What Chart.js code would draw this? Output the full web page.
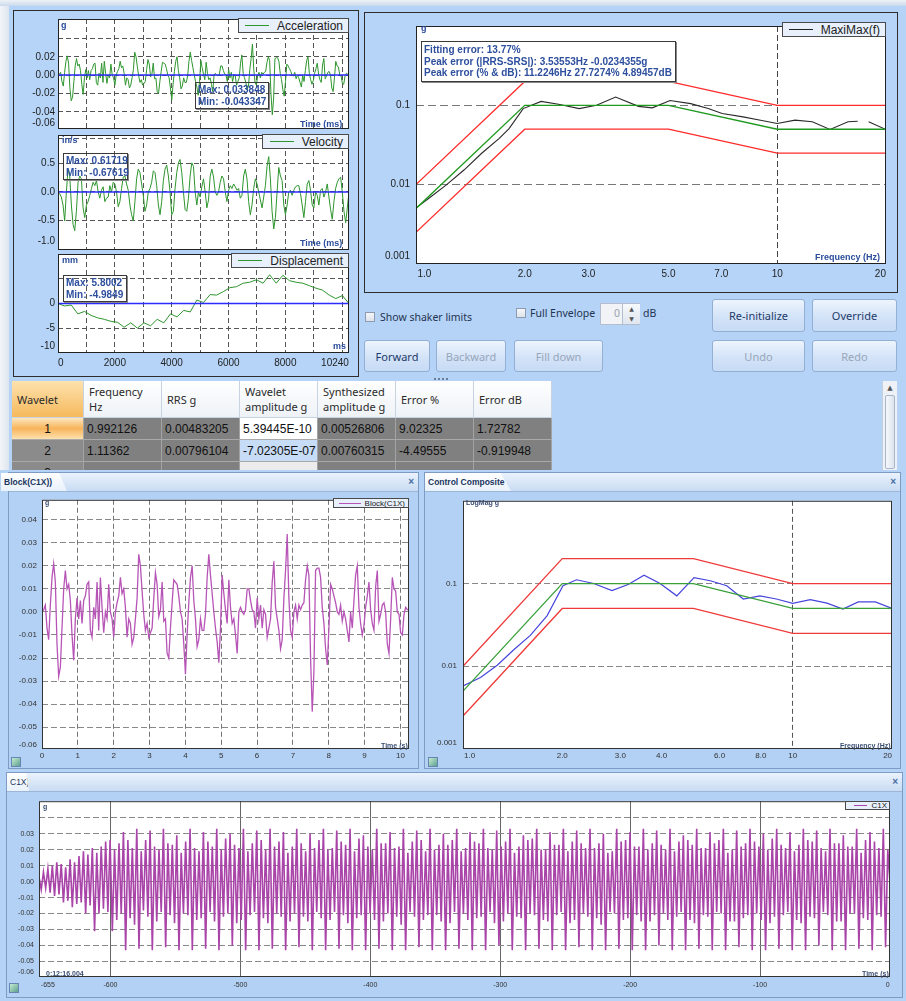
<!DOCTYPE html>
<html>
<head>
<meta charset="utf-8">
<title>Shock synthesis</title>
<script src="https://cdn.jsdelivr.net/npm/chart.js@4.4.1/dist/chart.umd.min.js"></script>
<style>
  body { margin:0; width:906px; height:1001px; position:relative; overflow:hidden; background:#b5d3f6; font-family:"Liberation Sans", Arial, sans-serif; }
  .panel { position:absolute; border:1px solid #2d2d2d; background:#b5d4f8; box-sizing:border-box; }
  .unit { position:absolute; font:bold 9px "Liberation Sans", Arial, sans-serif; color:#2b4d9c; z-index:3; white-space:nowrap; line-height:11px; }
  .small { font-size:7px; color:#3b4f74; }
  .note { position:absolute; border:1px solid #3a3a3a; box-shadow:1px 1px 0 #888; font:bold 10px "Liberation Sans", Arial, sans-serif; color:#2d4f9e; z-index:3; line-height:12px; padding:1px 2px; box-sizing:border-box; white-space:nowrap; }
  .leg { position:absolute; display:flex; align-items:center; justify-content:flex-end; gap:8px; background:#e8f0fb; border:1px solid #4a4a4a; box-sizing:border-box; font:12px "Liberation Sans", Arial, sans-serif; color:#222; padding-right:5px; z-index:3; white-space:nowrap; }
  .leg i { display:block; width:24px; border-top:1px solid; }
  .btn { position:absolute; height:33px; border:1px solid #93afd4; border-radius:3px; background:linear-gradient(#edf4fd, #d3e3f8 55%, #c7dbf5); font:11px "Noto Sans", sans-serif; color:#97a6b9; display:flex; align-items:center; justify-content:center; box-sizing:border-box; }
  .btn.on { color:#1d3a6a; }
  .chk { position:absolute; width:10px; height:10px; border:1px solid #8c9bb0; background:linear-gradient(#f4f6f9, #dfe4ea); box-sizing:border-box; }
  .lbl { position:absolute; font:10.5px "Noto Sans", sans-serif; color:#1f3352; white-space:nowrap; line-height:14px; }
  .cell { position:absolute; box-sizing:border-box; border-right:1px solid #a3a3a3; border-bottom:1px solid #a9a9a9; font:12px "Liberation Sans Narrow", "Liberation Sans", sans-serif; color:#111; padding-left:3px; display:flex; align-items:center; white-space:nowrap; overflow:hidden; }
  .hd { background:linear-gradient(#ffffff, #eef2f7); border-right:1px solid #c8d3e2; border-bottom:1px solid #c8d3e2; font:11px "Noto Sans", sans-serif; color:#2a2a2a; line-height:15px; padding-left:5px; }
  .win { position:absolute; border:1px solid #7d9bc3; background:#b3d1f4; box-sizing:border-box; }
  .bar { position:absolute; left:0; right:0; top:0; height:18px; background:linear-gradient(#eaf2fd, #c9dcf3); border-bottom:1px solid #9db6d6; }
  .tab { position:absolute; top:0; height:18px; background:linear-gradient(#ffffff, #e9f1fb); clip-path:polygon(0 0, 88% 0, 100% 100%, 0 100%); font:bold 8.5px "Liberation Sans", Arial, sans-serif; color:#1c355e; line-height:18px; padding-left:3px; box-sizing:border-box; white-space:nowrap; }
  .x { position:absolute; right:4px; top:3px; font:bold 10px "Liberation Sans", Arial, sans-serif; color:#4a6fa5; }
  .ico { position:absolute; width:10px; height:10px; border:1px solid #6486b0; background:linear-gradient(135deg, #c4ecd0, #5f9f8f); box-sizing:border-box; }
</style>
</head>
<body>

<!-- window shadow on the left/top edge -->
<div style="position:absolute;left:0;top:0;width:9px;height:470px;background:linear-gradient(90deg,#f3f5f8,#dde5ee);"></div>
<div style="position:absolute;left:0;top:0;width:906px;height:6px;background:linear-gradient(#eef2f6,#c9d9ec);"></div>

<!-- time history panel and SRS panel -->
<div class="panel" style="left:13px;top:10px;width:346px;height:367px;"></div>
<div class="panel" style="left:364px;top:12px;width:534px;height:281px;"></div>

<!-- controls under the SRS -->
<div class="chk" style="left:365px;top:312px;"></div>
<div class="lbl" style="left:380px;top:310px;">Show shaker limits</div>
<div class="chk" style="left:516px;top:308px;"></div>
<div class="lbl" style="left:530px;top:306px;">Full Envelope</div>
<div style="position:absolute;left:600px;top:303px;width:40px;height:22px;border:1px solid #b3bfcf;background:#f1f3f6;box-sizing:border-box;"></div>
<div class="lbl" style="left:614px;top:306px;color:#9aa3ae;">0</div>
<div style="position:absolute;left:622px;top:304px;width:17px;height:20px;border-left:1px solid #b3bfcf;background:linear-gradient(#f7f9fc,#dfe6ef);font:6px 'DejaVu Sans';color:#555;text-align:center;line-height:10px;">&#9650;<br>&#9660;</div>
<div class="lbl" style="left:643px;top:306px;">dB</div>
<div class="btn on" style="left:712px;top:299px;width:93px;">Re-initialize</div>
<div class="btn on" style="left:812px;top:299px;width:85px;">Override</div>
<div class="btn on" style="left:364px;top:340px;width:66px;height:32px;">Forward</div>
<div class="btn" style="left:436px;top:340px;width:70px;height:32px;">Backward</div>
<div class="btn" style="left:514px;top:340px;width:89px;height:32px;">Fill down</div>
<div class="btn" style="left:712px;top:340px;width:93px;height:32px;">Undo</div>
<div class="btn" style="left:812px;top:340px;width:85px;height:32px;">Redo</div>

<!-- splitter grip -->
<div style="position:absolute;left:434px;top:378px;width:14px;border-top:2px dotted #6a7f9c;"></div>

<!-- wavelet table -->
<div id="table" style="position:absolute;left:12px;top:381px;width:871px;height:89px;overflow:hidden;"></div>
<div style="position:absolute;left:882px;top:381px;width:15px;height:89px;background:#eef2f7;border-left:1px solid #c5d0de;box-sizing:border-box;">
  <div style="height:14px;font:7px 'DejaVu Sans';color:#555;text-align:center;line-height:14px;">&#9650;</div>
  <div style="margin:0 2px;height:72px;border:1px solid #a7b6ca;border-radius:2px;background:linear-gradient(90deg,#f6f8fb,#dde4ee);"></div>
</div>

<!-- lower windows -->
<div class="win" style="left:8px;top:472px;width:411px;height:297px;">
  <div class="bar"></div>
  <div class="tab" style="left:-8px;width:66px;">Block(C1X))</div>
  <div class="x">&#215;</div>
  <div class="ico" style="left:2px;top:284px;"></div>
</div>
<div class="win" style="left:424px;top:472px;width:477px;height:297px;">
  <div class="bar"></div>
  <div class="tab" style="left:0;width:86px;">Control Composite</div>
  <div class="x">&#215;</div>
  <div class="ico" style="left:3px;top:284px;"></div>
</div>
<div class="win" style="left:6px;top:772px;width:897px;height:226px;">
  <div class="bar"></div>
  <div class="tab" style="left:0;width:22px;font-weight:normal;">C1X)</div>
  <div class="x">&#215;</div>
  <div class="ico" style="left:2px;top:210px;"></div>
</div>

<!-- texts drawn over the plots -->
<div class="unit" style="left:61px;top:20px;">g</div>
<div class="unit" style="left:300px;top:119px;">Time (ms)</div>
<div class="leg" style="left:238px;top:18px;width:111px;height:15px;"><i style="color:#2e962e"></i>Acceleration</div>
<div class="note" style="left:195px;top:82px;width:74px;height:27px;">Max: 0.033848<br>Min: -0.043347</div>

<div class="unit" style="left:62px;top:135px;">in/s</div>
<div class="unit" style="left:300px;top:238px;">Time (ms)</div>
<div class="leg" style="left:262px;top:134px;width:87px;height:15px;"><i style="color:#2e962e"></i>Velocity</div>
<div class="note" style="left:63px;top:153px;width:65px;height:27px;">Max: 0.61719<br>Min: -0.67619</div>

<div class="unit" style="left:62px;top:255px;">mm</div>
<div class="unit" style="left:333px;top:341px;">ms</div>
<div class="leg" style="left:231px;top:253px;width:118px;height:15px;"><i style="color:#2e962e"></i>Displacement</div>
<div class="note" style="left:63px;top:275px;width:64px;height:27px;">Max: 5.8002<br>Min: -4.9849</div>

<div class="unit" style="left:421px;top:23px;">g</div>
<div class="unit" style="left:815px;top:252px;">Frequency (Hz)</div>
<div class="leg" style="left:782px;top:22px;width:104px;height:15px;"><i style="color:#222"></i>MaxiMax(f)</div>
<div class="note" style="left:421px;top:41px;width:255px;height:41px;background:#fff;line-height:11.5px;padding-top:2px;">Fitting error: 13.77%<br>Peak error (|RRS-SRS|): 3.53553Hz -0.0234355g<br>Peak error (% &amp; dB): 11.2246Hz 27.7274% 4.89457dB</div>

<div class="unit small" style="left:45px;top:497px;">g</div>
<div class="unit small" style="left:381px;top:740px;">Time (s)</div>
<div class="leg" style="left:333px;top:498px;width:76px;height:10px;font-size:8px;gap:4px;padding-right:3px;"><i style="color:#b755b7;width:22px"></i>Block(C1X)</div>

<div class="unit small" style="left:466px;top:497px;">LogMag g</div>
<div class="unit small" style="left:840px;top:740px;">Frequency (Hz)</div>

<div class="unit small" style="left:43px;top:801px;">g</div>
<div class="unit small" style="left:46px;top:968px;">0:12:16.004</div>
<div class="unit small" style="left:862px;top:968px;">Time (s)</div>
<div class="leg" style="left:845px;top:801px;width:45px;height:9px;font-size:8px;gap:4px;padding-right:2px;"><i style="color:#a944a9;width:13px"></i>C1X</div>

<script>
// ---- data ----

// drive block (g), 221 samples over the 10.24 s block; the same pulse shows as "Acceleration"
const blockG = [
  0, 0.001, 0.003, -0.007, -0.012, 0.003, 0.015, 0.021, 0.013, -0.014,
  -0.028, -0.024, -0.007, 0.010, 0.018, 0.010, 0.012, 0.005, -0.010, -0.021,
  -0.003, 0.006, -0.003, 0.005, -0.005, 0.005, 0.007, 0.012, 0.013, -0.008,
  -0.011, 0.002, -0.003, 0.013, -0.008, 0.015, 0.002, -0.009, 0.000, -0.003,
  0.012, 0.000, -0.003, -0.011, 0.000, 0.004, 0.007, 0.015, 0.008, 0.010,
  0.002, -0.011, -0.003, -0.005, -0.014, -0.011, -0.003, 0.006, 0.025, 0.020,
  0.009, -0.001, -0.008, -0.005, -0.011, -0.009, -0.007, 0.006, 0.017, 0.012,
  -0.002, 0.001, 0.013, -0.004, -0.003, -0.018, -0.020, -0.007, 0.004, 0.014,
  0.013, 0.012, 0.007, 0.000, -0.003, -0.014, -0.027, -0.010, 0.004, 0.015,
  0.020, 0.005, -0.003, -0.015, -0.012, -0.003, -0.008, -0.008, -0.001, 0.015,
  0.025, 0.016, 0.008, 0.000, -0.007, -0.013, -0.022, -0.007, 0.016, 0.008,
  0.001, -0.005, 0.014, 0.002, -0.005, -0.003, -0.010, -0.018, 0.000, 0.002,
  0.000, -0.001, 0.001, 0.010, 0.010, 0.005, 0.001, 0.000, -0.007, 0.006,
  -0.003, 0.003, -0.007, 0.001, -0.001, -0.011, -0.007, -0.003, 0.013, 0.022,
  0.002, -0.003, -0.008, -0.016, -0.012, 0.006, 0.018, 0.0338, 0.006, -0.008,
  -0.011, 0.000, 0.003, -0.003, 0.003, 0.001, 0.003, 0.004, 0.014, 0.020,
  0.016, -0.020, -0.0433, -0.026, 0.018, 0.019, 0.019, 0.015, 0.002, -0.005,
  -0.016, -0.023, -0.007, 0.012, 0.010, 0.007, 0.004, 0.000, -0.001, 0.003,
  -0.004, 0.000, -0.003, -0.008, -0.013, 0.000, -0.007, 0.005, 0.016, 0.020,
  0.002, -0.005, -0.010, -0.006, 0.002, 0.007, 0.013, 0.001, -0.005, -0.008,
  0.011, 0.018, -0.004, -0.001, 0.003, 0.004, 0.000, -0.014, -0.018, -0.003,
  0.015, 0.010, 0.009, 0.000, -0.001, -0.009, -0.010, -0.001, 0.002, 0.001,
  0.001
];

// velocity (in/s), 175 samples over 10240 ms
const velocity = [
  0.00, -0.03, -0.09, -0.23, -0.51, 0.00, 0.40, 0.28, -0.23, -0.57,
  -0.68, -0.34, 0.17, 0.28, 0.23, -0.28, -0.45, -0.23, -0.17, -0.06,
  0.06, 0.17, 0.11, 0.20, 0.00, -0.11, 0.03, 0.09, -0.17, -0.11,
  -0.09, 0.11, 0.00, 0.17, 0.14, 0.00, -0.26, -0.17, 0.06, 0.26,
  0.28, 0.14, 0.03, -0.23, -0.40, -0.51, -0.17, 0.23, 0.40, 0.34,
  0.14, -0.06, -0.34, -0.23, 0.00, 0.06, 0.17, 0.37, 0.34, 0.11,
  -0.23, -0.40, -0.17, 0.20, 0.40, 0.47, 0.28, 0.00, -0.40, -0.34,
  0.06, 0.34, 0.51, 0.57, 0.34, 0.00, -0.31, -0.34, -0.11, 0.28,
  0.51, 0.45, 0.00, -0.23, 0.00, -0.09, 0.09, 0.23, 0.00, -0.28,
  -0.14, 0.28, 0.40, 0.26, 0.00, -0.06, 0.00, 0.17, 0.28, 0.23,
  0.00, -0.17, 0.03, 0.11, 0.06, 0.14, 0.09, 0.03, 0.06, -0.11,
  -0.06, 0.28, 0.40, 0.23, -0.17, -0.40, -0.23, 0.06, 0.23, 0.14,
  0.00, -0.14, -0.28, -0.09, 0.11, 0.45, 0.62, 0.23, -0.34, -0.65,
  -0.45, 0.00, 0.43, 0.28, 0.20, -0.23, -0.40, -0.23, 0.00, 0.03,
  -0.06, 0.03, 0.09, 0.11, 0.11, -0.03, -0.23, -0.45, -0.17, 0.14,
  0.20, 0.03, -0.23, -0.28, 0.00, -0.06, -0.23, 0.03, 0.06, -0.09,
  0.00, 0.14, -0.09, -0.31, -0.48, -0.17, 0.06, 0.17, 0.23, 0.26,
  0.00, -0.34, -0.54, -0.28, 0.00
];

// displacement (mm), 45 samples over 10240 ms
const displacement = [
  0.0, -0.5, -0.3, -2.1, -1.6, -2.4, -2.9, -3.2, -3.6, -3.8,
  -4.8, -3.9, -4.98, -3.9, -4.5, -3.2, -3.9, -2.1, -2.7, -1.4,
  -1.7, 0.7, 0.2, 1.8, 1.7, 2.4, 3.2, 3.4, 4.1, 4.3,
  4.8, 4.1, 5.8, 4.1, 5.7, 4.6, 4.3, 4.1, 3.6, 3.1,
  2.7, 1.7, 1.0, 1.6, 0.0
];

// SRS reference profile and tolerances (Hz, g)
const profFreq   = [1, 2, 5, 10, 20];
const profTarget = [0.005, 0.1, 0.1, 0.05, 0.05];
const profUpper  = [0.01, 0.2, 0.2, 0.1, 0.1];
const profLower  = [0.0025, 0.05, 0.05, 0.025, 0.025];

// synthesized MaxiMax SRS (null = gap in the trace)
const srsFreq = [1.0, 1.088, 1.216, 1.36, 1.52, 1.70, 1.81, 1.98, 2.22, 2.48, 2.83, 3.16, 3.57, 4.13, 4.51,
                 5.05, 5.76, 6.44, 7.04, 8.04, 8.99, 10.0, 11.2, 12.5, 14.0, 15.7, 16.7, 17.3, 17.9, 20.0];
const srsMaxi = [0.0051, 0.0068, 0.010, 0.0154, 0.0249, 0.0383, 0.051, 0.091, 0.112, 0.103, 0.091, 0.100, 0.127, 0.097, 0.093,
                 0.115, 0.105, 0.091, 0.079, 0.0715, 0.065, 0.059, 0.065, 0.062, 0.0496, 0.062, 0.063, null, 0.062, 0.0496];

// control composite (measured SRS)
const ccFreq = [1.0, 1.13, 1.27, 1.42, 1.60, 1.80, 2.01, 2.21, 2.49, 2.83, 3.18, 3.54, 3.96, 4.45,
                5.02, 5.62, 6.31, 7.08, 7.95, 8.92, 10.0, 11.3, 12.7, 14.2, 15.8, 17.8, 20.0];
const ccMeas = [0.0058, 0.0073, 0.0103, 0.0156, 0.0236, 0.041, 0.094, 0.111, 0.100, 0.082, 0.098, 0.126, 0.100, 0.071,
                0.118, 0.108, 0.094, 0.065, 0.071, 0.065, 0.0575, 0.064, 0.058, 0.049, 0.060, 0.060, 0.050];

// C1X control signal, last 655 s: six extremes per 10 s block
const c1x = [
  0.003, -0.005, 0.006, -0.004, 0.008, -0.007,
  0.010, -0.009, 0.012, -0.008, 0.011, -0.013,
  0.009, -0.012, 0.014, -0.016, 0.012, -0.014,
  0.016, -0.013, 0.019, -0.020, 0.017, -0.015,
  0.021, -0.031, 0.018, -0.020, 0.022, -0.017,
  0.025, -0.019, 0.026, -0.031, 0.020, -0.024,
  0.024, -0.020, 0.031, -0.043, 0.026, -0.023,
  0.021, -0.027, 0.033, -0.042, 0.019, -0.018,
  0.026, -0.022, 0.032, -0.043, 0.022, -0.025,
  0.020, -0.019, 0.033, -0.041, 0.024, -0.021,
  0.023, -0.026, 0.029, -0.043, 0.018, -0.020,
  0.025, -0.021, 0.033, -0.043, 0.021, -0.024,
  0.019, -0.023, 0.031, -0.042, 0.025, -0.019,
  0.022, -0.025, 0.033, -0.043, 0.020, -0.022,
  0.027, -0.020, 0.030, -0.040, 0.023, -0.026,
  0.021, -0.024, 0.033, -0.043, 0.019, -0.021,
  0.024, -0.019, 0.032, -0.043, 0.026, -0.023,
  0.020, -0.026, 0.033, -0.042, 0.022, -0.020,
  0.025, -0.022, 0.031, -0.043, 0.018, -0.025,
  0.022, -0.020, 0.033, -0.041, 0.024, -0.022,
  0.019, -0.025, 0.030, -0.043, 0.021, -0.019,
  0.026, -0.023, 0.033, -0.043, 0.020, -0.024,
  0.021, -0.019, 0.032, -0.042, 0.025, -0.021,
  0.023, -0.026, 0.033, -0.043, 0.019, -0.023,
  0.027, -0.021, 0.029, -0.043, 0.022, -0.020,
  0.020, -0.024, 0.033, -0.042, 0.024, -0.025,
  0.024, -0.020, 0.031, -0.043, 0.021, -0.022,
  0.022, -0.027, 0.033, -0.043, 0.018, -0.019,
  0.025, -0.022, 0.032, -0.041, 0.026, -0.024,
  0.019, -0.021, 0.033, -0.043, 0.020, -0.021,
  0.023, -0.025, 0.030, -0.043, 0.023, -0.026,
  0.026, -0.019, 0.033, -0.042, 0.019, -0.020,
  0.021, -0.024, 0.031, -0.043, 0.025, -0.023,
  0.024, -0.022, 0.033, -0.043, 0.021, -0.019,
  0.020, -0.026, 0.032, -0.040, 0.022, -0.025,
  0.025, -0.020, 0.033, -0.043, 0.018, -0.022,
  0.022, -0.023, 0.029, -0.043, 0.026, -0.020,
  0.027, -0.021, 0.033, -0.042, 0.020, -0.024,
  0.020, -0.025, 0.031, -0.043, 0.023, -0.021,
  0.023, -0.019, 0.033, -0.043, 0.019, -0.026,
  0.025, -0.024, 0.032, -0.041, 0.024, -0.020,
  0.021, -0.022, 0.033, -0.043, 0.021, -0.023,
  0.024, -0.027, 0.030, -0.043, 0.018, -0.019,
  0.019, -0.020, 0.033, -0.042, 0.025, -0.024,
  0.026, -0.023, 0.031, -0.043, 0.022, -0.021,
  0.022, -0.025, 0.033, -0.043, 0.020, -0.025,
  0.024, -0.021, 0.032, -0.040, 0.023, -0.020,
  0.020, -0.024, 0.033, -0.043, 0.019, -0.022,
  0.025, -0.019, 0.029, -0.043, 0.026, -0.024,
  0.023, -0.026, 0.033, -0.042, 0.021, -0.021,
  0.021, -0.022, 0.031, -0.043, 0.024, -0.019,
  0.026, -0.020, 0.033, -0.043, 0.018, -0.025,
  0.020, -0.025, 0.032, -0.041, 0.022, -0.023,
  0.024, -0.021, 0.033, -0.043, 0.025, -0.020,
  0.022, -0.024, 0.030, -0.043, 0.020, -0.026,
  0.027, -0.022, 0.033, -0.042, 0.023, -0.021,
  0.021, -0.019, 0.031, -0.043, 0.019, -0.024,
  0.023, -0.026, 0.033, -0.043, 0.026, -0.022,
  0.025, -0.023, 0.032, -0.040, 0.021, -0.019,
  0.019, -0.021, 0.033, -0.043, 0.024, -0.025,
  0.024, -0.025, 0.029, -0.043, 0.022, -0.020,
  0.022, -0.020, 0.033, -0.042, 0.018, -0.023,
  0.026, -0.024, 0.031, -0.043, 0.025, -0.021,
  0.021, -0.022, 0.033, -0.041, 0.020, -0.001
];

// wavelet table
const tableCols = ['Wavelet', 'Frequency<br>Hz', 'RRS g', 'Wavelet<br>amplitude g', 'Synthesized<br>amplitude g', 'Error %', 'Error dB'];
const tableRows = [
  ['1', '0.992126', '0.00483205', '5.39445E-10', '0.00526806', '9.02325', '1.72782'],
  ['2', '1.11362', '0.00796104', '-7.02305E-07', '0.00760315', '-4.49555', '-0.919948'],
  ['3', '', '', '', '', '', '']
];

// ---- table ----
(function buildTable() {
  const host = document.getElementById('table');
  const colW = 78, firstW = 72;
  const x0 = i => i === 0 ? 0 : firstW + (i - 1) * colW;
  const w = i => i === 0 ? firstW : colW;
  tableCols.forEach((t, i) => {
    const d = document.createElement('div');
    d.className = 'cell hd';
    d.style.cssText = `left:${x0(i)}px;top:0;width:${w(i)}px;height:37px;` +
      (i === 0 ? 'background:linear-gradient(#fde2ae,#f6b95c);' : '');
    d.innerHTML = t;
    host.appendChild(d);
  });
  tableRows.forEach((row, r) => {
    row.forEach((t, i) => {
      const d = document.createElement('div');
      d.className = 'cell';
      let bg = '#808080';
      if (i === 0) bg = r === 0 ? 'linear-gradient(#fde6bd,#f7b45a 50%,#fde1b0)' : '#8b8b8b';
      if (i === 3) bg = r === 0 ? '#ffffff' : (r === 1 ? '#c7dcf6' : '#ececec');
      d.style.cssText = `left:${x0(i)}px;top:${37 + r * 22}px;width:${w(i)}px;height:22px;background:${bg};` +
        (i === 0 ? 'justify-content:center;padding-left:0;' : '') +
        (r === 0 && i === 3 ? 'font-family:"Liberation Sans",Arial,sans-serif;' : '');
      d.textContent = t;
      host.appendChild(d);
    });
  });
})();

// ---- charts ----
const PAD = 8;
const sans = '"Liberation Sans", Arial, sans-serif';

const framePlugin = {
  id: 'frame',
  beforeDraw(chart) {
    const a = chart.chartArea, c = chart.ctx;
    c.save(); c.fillStyle = '#fff'; c.fillRect(a.left, a.top, a.width, a.height); c.restore();
  },
  afterDraw(chart, args, opts) {
    const a = chart.chartArea, c = chart.ctx;
    c.save(); c.strokeStyle = opts.color || '#222'; c.lineWidth = 1;
    c.strokeRect(a.left + 0.5, a.top + 0.5, a.width - 1, a.height - 1); c.restore();
  }
};

// an axis with grid lines at `grid` and labels that the software keeps inside the plot edges
function axis(o) {
  const log = o.type === 'logarithmic';
  return {
    type: o.type, min: o.min, max: o.max,
    afterBuildTicks: s => {
      const f = v => log ? Math.log10(v) : v;
      const g = u => log ? Math.pow(10, u) : u;
      const lo = f(s.min), hi = f(s.max), perPx = (hi - lo) / o.len;
      const t = o.grid.map(v => ({ value: v, text: '', line: true }));
      (o.labels || []).forEach(txt => {
        const m = (typeof o.inset === 'function' ? o.inset(txt) : (o.inset || 0)) * perPx;
        const u = Math.min(Math.max(f(parseFloat(txt)), lo + m), hi - m);
        const hit = t.find(k => Math.abs(f(k.value) - u) < 1e-9);
        if (hit) hit.text = txt; else t.push({ value: g(u), text: txt, line: false });
      });
      s.ticks = t;
    },
    grid: { color: c => (c.tick && c.tick.line) ? o.gridColor : 'rgba(0,0,0,0)', drawTicks: false, lineWidth: 1 },
    border: { display: false, dash: o.dash || [] },
    ticks: {
      display: !!o.labels, autoSkip: false, maxRotation: 0, padding: o.pad || 3,
      font: { family: sans, size: o.size || 10 }, color: o.color || '#222',
      callback: (v, i, ticks) => ticks[i].text
    }
  };
}

function plot(rect, yW, xH, x, y, datasets, frameColor) {
  const [l, t, r, b] = rect;
  const cv = document.createElement('canvas');
  const w = r - l + yW + 2 * PAD, h = b - t + xH + 2 * PAD;
  cv.width = w; cv.height = h;
  cv.style.cssText = `position:absolute;left:${l - yW - PAD}px;top:${t - PAD}px;width:${w}px;height:${h}px;z-index:2;`;
  document.body.appendChild(cv);
  x.afterFit = s => { s.height = xH; };
  y.afterFit = s => { s.width = yW; };
  return new Chart(cv, {
    type: 'line',
    data: { datasets },
    options: {
      responsive: false, animation: false, events: [],
      layout: { padding: PAD },
      plugins: { legend: { display: false }, tooltip: { enabled: false }, frame: { color: frameColor } },
      scales: { x, y }
    },
    plugins: [framePlugin]
  });
}

const line = (data, color, width) => ({ data, borderColor: color, borderWidth: width || 1, pointRadius: 0, fill: false, tension: 0 });
const series = (values, step, start) => values.map((v, i) => ({ x: (start || 0) + i * step, y: v }));
const pairs = (xs, ys) => xs.map((v, i) => ({ x: v, y: ys[i] }));
const zeroLine = max => line([{ x: 0, y: 0 }, { x: max, y: 0 }], '#2b2bff', 1.5);

const msGrid = [1000, 2000, 3000, 4000, 5000, 6000, 7000, 8000, 9000, 10000];
const green = '#2e962e';

// Acceleration
plot([58, 18, 349, 130], 45, 0,
  axis({ type: 'linear', min: 0, max: 10240, len: 291, grid: msGrid, gridColor: '#555', dash: [5, 3] }),
  axis({ type: 'linear', min: -0.0588, max: 0.0612, len: 112, grid: [0.04, 0.02, 0, -0.02, -0.04], gridColor: '#555', dash: [5, 3],
         labels: ['0.02', '0.00', '-0.02', '-0.04', '-0.06'], inset: 6 }),
  [zeroLine(10240), line(series(blockG, 10240 / (blockG.length - 1)), green)]);

// Velocity
plot([58, 134, 349, 251], 45, 0,
  axis({ type: 'linear', min: 0, max: 10240, len: 291, grid: msGrid, gridColor: '#555', dash: [5, 3] }),
  axis({ type: 'linear', min: -1.02, max: 1.0, len: 117, grid: [0.93, 0.5, 0, -0.5], gridColor: '#555', dash: [5, 3],
         labels: ['0.5', '0.0', '-0.5', '-1.0'], inset: 9 }),
  [zeroLine(10240), line(series(velocity, 10240 / (velocity.length - 1)), green)]);

// Displacement
plot([58, 253, 349, 353], 45, 16,
  axis({ type: 'linear', min: 0, max: 10240, len: 291, grid: msGrid, gridColor: '#555', dash: [5, 3],
         labels: ['0', '2000', '4000', '6000', '8000', '10240'], inset: t => t.length * 2.8, pad: 4 }),
  axis({ type: 'linear', min: -10, max: 10, len: 100, grid: [5, 0, -5], gridColor: '#555', dash: [5, 3],
         labels: ['0', '-5', '-10'], inset: 7 }),
  [zeroLine(10240), line(series(displacement, 10240 / (displacement.length - 1)), green)]);

// SRS
plot([416, 22, 886, 264], 50, 18,
  axis({ type: 'logarithmic', min: 1, max: 20, len: 470, grid: [10], gridColor: '#444', dash: [6, 3],
         labels: ['1.0', '2.0', '3.0', '5.0', '7.0', '10', '20'], inset: t => t.length * 2.8, pad: 4 }),
  axis({ type: 'logarithmic', min: 0.001, max: 1, len: 242, grid: [0.1, 0.01], gridColor: '#777', dash: [8, 4],
         labels: ['0.1', '0.01', '0.001'], inset: 8, pad: 6 }),
  [line(pairs(profFreq, profUpper), '#ff2a2a', 1.2),
   line(pairs(profFreq, profLower), '#ff2a2a', 1.2),
   line(pairs(profFreq, profTarget), '#1f9a1f', 1.4),
   line(pairs(srsFreq, srsMaxi), '#2a2a2a', 1.1)]);

// Block(C1X)
plot([42, 498, 409, 749], 36, 14,
  axis({ type: 'linear', min: 0, max: 10.24, len: 367, grid: [1, 2, 3, 4, 5, 6, 7, 8, 9, 10], gridColor: '#777', dash: [5, 3],
         labels: ['0', '1', '2', '3', '4', '5', '6', '7', '8', '9', '10'], size: 8, color: '#333', pad: 2 }),
  axis({ type: 'linear', min: -0.0595, max: 0.0487, len: 251,
         grid: [0.04, 0.03, 0.02, 0.01, 0, -0.01, -0.02, -0.03, -0.04, -0.05], gridColor: '#888', dash: [6, 3],
         labels: ['0.04', '0.03', '0.02', '0.01', '0.00', '-0.01', '-0.02', '-0.03', '-0.04', '-0.05', '-0.06'],
         inset: 4, size: 8, color: '#333', pad: 5 }),
  [line(series(blockG, 10.24 / (blockG.length - 1)), '#b755b7', 1.3)], '#333');

// Control Composite
plot([463, 498, 892, 749], 40, 14,
  axis({ type: 'logarithmic', min: 1, max: 20, len: 429, grid: [10], gridColor: '#555', dash: [5, 3],
         labels: ['1.0', '2.0', '3.0', '4.0', '6.0', '8.0', '10', '20'], inset: t => t.length * 2.2, size: 8, color: '#333', pad: 2 }),
  axis({ type: 'logarithmic', min: 0.001, max: 1, len: 251, grid: [0.1, 0.01], gridColor: '#888', dash: [6, 3],
         labels: ['0.1', '0.01', '0.001'], inset: 6, size: 8, color: '#333', pad: 6 }),
  [line(pairs(profFreq, profUpper), '#f03a3a', 1.3),
   line(pairs(profFreq, profLower), '#f03a3a', 1.3),
   line(pairs(profFreq, profTarget), '#3aa03a', 1.3),
   line(pairs(ccFreq, ccMeas), '#4646dc', 1.2)], '#333');

// C1X
plot([39, 800, 890, 977], 34, 16,
  axis({ type: 'linear', min: -655, max: 0, len: 851, grid: [-600, -500, -400, -300, -200, -100], gridColor: '#666',
         labels: ['-655', '-600', '-500', '-400', '-300', '-200', '-100', '0'], inset: t => t.length * 2.2, size: 7, color: '#333', pad: 4 }),
  axis({ type: 'linear', min: -0.0597, max: 0.0503, len: 177,
         grid: [0.04, 0.03, 0.02, 0.01, 0, -0.01, -0.02, -0.03, -0.04, -0.05], gridColor: '#888', dash: [6, 3],
         labels: ['0.03', '0.02', '0.01', '0.00', '-0.01', '-0.02', '-0.03', '-0.04', '-0.05', '-0.06'],
         inset: 5, size: 7, color: '#333', pad: 5 }),
  [line(series(c1x, 655 / (c1x.length - 1), -655), '#a944a9', 1.6)], '#333');
</script>
</body>
</html>
